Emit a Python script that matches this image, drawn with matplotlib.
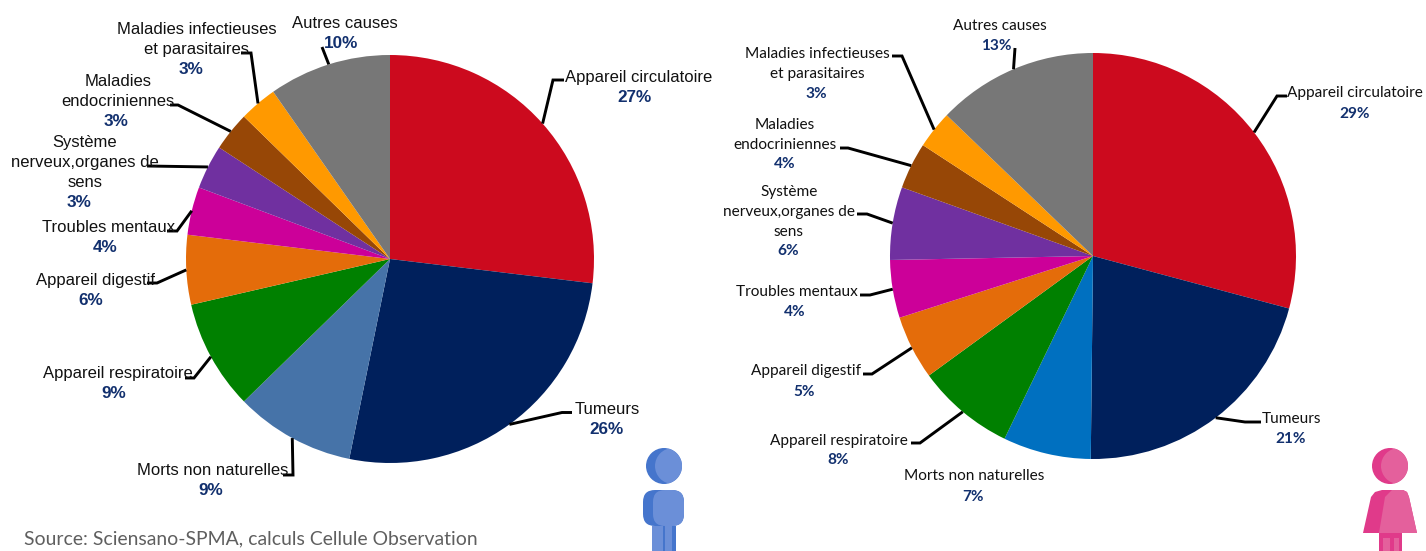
import numpy as np
import matplotlib
matplotlib.use("Agg")
import matplotlib.pyplot as plt
from matplotlib.patches import Circle, FancyBboxPatch, Polygon, Rectangle

W, H = 1426, 551

# ---------- data ----------
categories = ["Appareil circulatoire", "Tumeurs", "Morts non naturelles",
              "Appareil respiratoire", "Appareil digestif", "Troubles mentaux",
              "Système\nnerveux,organes de\nsens", "Maladies\nendocriniennes",
              "Maladies infectieuses\net parasitaires", "Autres causes"]
men_values = [26.9, 26.3, 9.5, 8.7, 5.5, 3.8, 3.5, 3.1, 3.0, 9.7]
women_values = [29.15, 21.0, 7.0, 7.8, 5.1, 4.6, 5.8, 3.7, 3.0, 12.8]
men_labels = ["27%", "26%", "9%", "9%", "6%", "4%", "3%", "3%", "3%", "10%"]
women_labels = ["29%", "21%", "7%", "8%", "5%", "4%", "6%", "4%", "3%", "13%"]
source_text = "Source: Sciensano-SPMA, calculs Cellule Observation"

# ---------- styles ----------
men_colors = ["#CC0A1E", "#00205C", "#4673A8", "#008000", "#E46C0A",
              "#CC0099", "#7030A0", "#974706", "#FF9900", "#777777"]
women_colors = ["#CC0A1E", "#00205C", "#0070C0", "#008000", "#E46C0A",
                "#CC0099", "#7030A0", "#974706", "#FF9900", "#777777"]
NAVY = "#12306E"

# ---------- layout (pixels) ----------
men_pie = (390, 259, 204)
women_pie = (1093, 256, 203)
# (name x, first baseline, pct x, pct baseline)
men_text = [(639, 82, 635, 102), (607, 414, 606, 434), (213, 475, 211, 495),
            (118, 378, 114, 398), (95, 285, 91, 305), (109, 232, 105, 252),
            (85, 147, 79, 207), (118, 86, 116, 126), (197, 34, 191, 74),
            (345, 28, 341, 48)]
women_text = [(1355, 97, 1355, 118), (1291, 423, 1291, 443), (974, 480, 973, 501),
              (839, 445, 838, 464), (806, 375, 804, 396), (797, 296, 795, 316),
              (789, 196, 788, 255), (785, 129, 785, 168), (817, 58, 816, 98),
              (1000, 30, 996, 50)]
# leader elbow and end
men_leaders = [((553, 80), (564, 80)), ((562, 412.5), (572, 412.5)), ((293, 475), (283, 475)),
               ((194, 378), (185, 378)), ((157, 283), (147, 283)), ((177, 231), (167, 231)),
               ((147, 166), (147, 166)), ((178, 105), (170, 105)), ((251, 53), (241, 53)),
               ((322, 47), (322, 47))]
women_leaders = [((1277, 96), (1287, 96)), ((1245, 422), (1261, 422)), None,
                 ((920, 443), (911, 443)), ((872, 374), (863, 374)), ((870, 295), (860, 295)),
                 ((867, 214), (857, 214)), ((848, 148), (840, 148)), ((902, 56), (892, 56)),
                 ((1015, 48), (1015, 48))]

fig = plt.figure(figsize=(W / 100, H / 100), dpi=100, facecolor="white")
ov = fig.add_axes([0, 0, 1, 1], zorder=3)
ov.set_xlim(0, W)
ov.set_ylim(H, 0)
ov.axis("off")
ov.patch.set_alpha(0)


def draw_pie(values, colors, pie, labels, text, leaders, family, size, pct_size):
    cx, cy, r = pie
    ax = fig.add_axes([(cx - r) / W, 1 - (cy + r) / H, 2 * r / W, 2 * r / H], zorder=1)
    ax.pie(values, colors=colors, startangle=90, counterclock=False, radius=1,
           wedgeprops=dict(linewidth=0))
    ax.set_xlim(-1, 1)
    ax.set_ylim(-1, 1)
    ax.set_aspect("equal")
    ax.axis("off")
    total = sum(values)
    cum = 0
    for i, v in enumerate(values):
        mid = 2 * np.pi * (cum + v / 2) / total
        cum += v
        nx, base, px, pbase = text[i]
        lines = categories[i].split("\n")
        for k, ln in enumerate(lines):
            ov.text(nx, base + k * 20, ln, ha="center", va="baseline",
                    family=family, fontsize=size, color="#111111")
        ov.text(px, pbase, labels[i], ha="center", va="baseline", family=family,
                fontsize=pct_size, fontweight="bold", color=NAVY)
        if leaders[i] is None:
            continue
        sx, sy = cx + r * np.sin(mid), cy - r * np.cos(mid)
        (ex, ey), (fx, fy) = leaders[i]
        ov.plot([sx, ex, fx], [sy, ey, fy], color="black", lw=2.1,
                solid_joinstyle="miter", solid_capstyle="butt")


draw_pie(men_values, men_colors, men_pie, men_labels, men_text, men_leaders,
         "Liberation Sans", 11.95, 12.3)
draw_pie(women_values, women_colors, women_pie, women_labels, women_text, women_leaders,
         "Lato", 11.1, 11.1)

ov.text(24, 544, source_text, family="Lato", fontsize=13.95, color="#5f5f5f",
        ha="left", va="baseline", fontweight="normal")

# ---------- pictograms ----------
def two_tone_head(x, y, r, dark, light):
    ov.add_patch(Circle((x, y), r, fc=dark, ec="none"))
    clip = Circle((x, y), r, transform=ov.transData)
    p = Circle((x + 9, y), r, fc=light, ec="none")
    ov.add_patch(p)
    p.set_clip_path(clip)


D, L = "#4575CC", "#6B8FD8"
two_tone_head(664, 466, 18, D, L)
ov.add_patch(FancyBboxPatch((643, 490), 41, 36, boxstyle="round,pad=0,rounding_size=12", fc=D, ec="none"))
ov.add_patch(FancyBboxPatch((653, 490), 31, 36, boxstyle="round,pad=0,rounding_size=12", fc=L, ec="none"))
ov.add_patch(Rectangle((652, 526), 24, 25, fc=D, ec="none"))
ov.add_patch(Rectangle((652, 526), 11, 25, fc=L, ec="none"))
ov.add_patch(Rectangle((665, 526), 7, 25, fc=L, ec="none"))

D, L = "#E03A8A", "#E4609C"
two_tone_head(1390, 466, 18, D, L)
ov.add_patch(Polygon([(1382, 490), (1403, 490), (1407, 492), (1409, 497), (1417, 533), (1363, 533), (1371, 497), (1375, 492)],
                     closed=True, fc=D, ec="none"))
ov.add_patch(Polygon([(1392, 490), (1403, 490), (1407, 492), (1409, 497), (1417, 533), (1379, 533), (1385, 497)],
                     closed=True, fc=L, ec="none"))
ov.add_patch(Rectangle((1379, 533), 23, 18, fc=D, ec="none"))
ov.add_patch(Rectangle((1383, 538), 7, 13, fc=L, ec="none"))
ov.add_patch(Rectangle((1394, 538), 5, 13, fc=L, ec="none"))

fig.savefig("out.png", dpi=100, facecolor="white")
